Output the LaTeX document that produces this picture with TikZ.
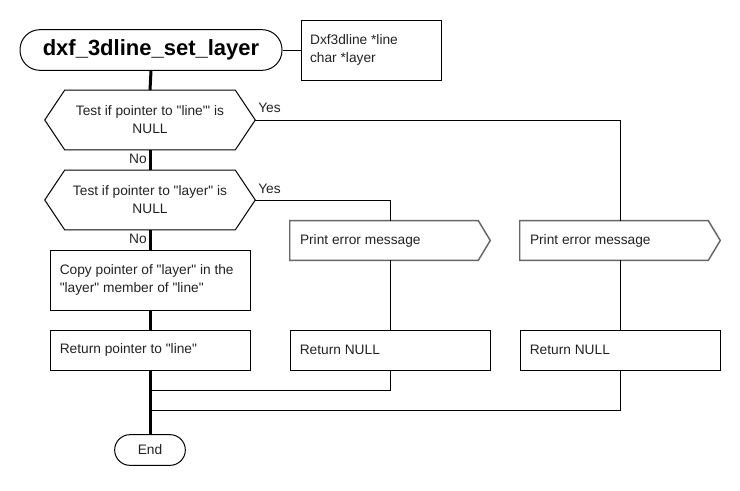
\documentclass[tikz,border=0pt]{standalone}
\usepackage{fontspec}
\setmainfont{Liberation Sans}[Ligatures=TeXOff]
\usetikzlibrary{calc}
\definecolor{txt}{HTML}{222222}
\definecolor{pegray}{HTML}{666666}
\begin{document}
\begin{tikzpicture}[x=0.75pt,y=-0.75pt,
  base/.style={font=\fontsize{10.3pt}{13.5pt}\selectfont, text=txt},
  thinline/.style={draw=black, line width=0.75pt},
  thickline/.style={draw=black, line width=2.25pt},
  boxshape/.style={draw=black, line width=0.75pt, minimum width=150pt, minimum height=30pt, inner sep=0pt},
  area/.style={minimum width=157.5pt, minimum height=44.5pt, inner sep=0pt},
  peshape/.style={minimum width=150pt, minimum height=29.5pt, inner sep=0pt},
  lbl/.style={base, align=left, anchor=west, inner sep=0pt}
]
\useasboundingbox (0,0) rectangle (740,490);

% title and note
\node[draw=black, line width=0.75pt, rounded corners=15pt, minimum width=196.5pt, minimum height=30.5pt, inner sep=0pt,
      font=\bfseries\fontsize{16.5pt}{20pt}\selectfont] (title) at (151,50) {dxf\_3dline\_set\_layer};
\node[draw=black, line width=0.75pt, minimum width=105pt, minimum height=45pt, inner sep=0pt] (note) at (371,50) {};
\node[lbl] (notetext) at ([xshift=7pt]note.west) {Dxf3dline *line\\char *layer};

% decisions
\node[area, base, align=center] (d1) at (150,120) {Test if pointer to "line"' is\\NULL};
\draw[thinline] (d1.west) -- ([xshift=15pt]d1.north west) -- ([xshift=-15pt]d1.north east) -- (d1.east)
  -- ([xshift=-15pt]d1.south east) -- ([xshift=15pt]d1.south west) -- cycle;
\node[area, base, align=center] (d2) at (150,200) {Test if pointer to "layer" is\\NULL};
\draw[thinline] (d2.west) -- ([xshift=15pt]d2.north west) -- ([xshift=-15pt]d2.north east) -- (d2.east)
  -- ([xshift=-15pt]d2.south east) -- ([xshift=15pt]d2.south west) -- cycle;

% process boxes
\node[boxshape, minimum height=45pt] (copy) at (150,280) {};
\node[lbl] (copytext) at ([xshift=7.5pt]copy.west) {Copy pointer of "layer" in the\\"layer" member of "line"};
\node[boxshape] (ret) at (150,350) {};
\node[lbl] (rettext) at ([xshift=7.5pt]ret.west) {Return pointer to "line"};

% print error shapes
\node[peshape] (pe1) at (390,240.5) {};
\draw[draw=pegray, line width=1.1pt] (pe1.north west) -- ([xshift=-9pt]pe1.north east) -- (pe1.east)
  -- ([xshift=-9pt]pe1.south east) -- (pe1.south west) -- cycle;
\node[lbl] (pe1text) at ([xshift=7.5pt]pe1.west) {Print error message};
\node[peshape] (pe2) at (620,240.5) {};
\draw[draw=pegray, line width=1.1pt] (pe2.north west) -- ([xshift=-9pt]pe2.north east) -- (pe2.east)
  -- ([xshift=-9pt]pe2.south east) -- (pe2.south west) -- cycle;
\node[lbl] (pe2text) at ([xshift=7.5pt]pe2.west) {Print error message};

% return null boxes
\node[boxshape] (rn1) at (390,350) {};
\node[lbl] (rn1text) at ([xshift=7.5pt]rn1.west) {Return NULL};
\node[boxshape] (rn2) at (620,350) {};
\node[lbl] (rn2text) at ([xshift=7.5pt]rn2.west) {Return NULL};

% end
\node[draw=black, line width=0.75pt, rounded corners=11.5pt, minimum width=53pt, minimum height=23pt, inner sep=0pt,
      base] (end) at (150,450) {End};

% merge coordinates
\coordinate (m1) at (150,390);
\coordinate (m2) at (150,410);

% connectors
\draw[thinline] (title.east) -- (note.west);
\draw[thickline] (title.south) -- (d1.north);
\draw[thickline] (d1.south) -- (d2.north);
\draw[thickline] (d2.south) -- (copy.north);
\draw[thickline] (copy.south) -- (ret.north);
\draw[thickline] (ret.south) -- (end.north);
\draw[thinline] (d1.east) -| (pe2.north);
\draw[thinline] (d2.east) -| (pe1.north);
\draw[thinline] (pe1.south) -- (rn1.north);
\draw[thinline] (pe2.south) -- (rn2.north);
\draw[thinline] (rn1.south) |- (m1);
\draw[thinline] (rn2.south) |- (m2);

% labels
\node[base, anchor=west, inner sep=0pt] (yes1) at (258,108) {Yes};
\node[base, anchor=west, inner sep=0pt] (yes2) at (258,189) {Yes};
\node[base, anchor=east, inner sep=0pt] (no1) at (147,159) {No};
\node[base, anchor=east, inner sep=0pt] (no2) at (147,239) {No};
\end{tikzpicture}
\end{document}
